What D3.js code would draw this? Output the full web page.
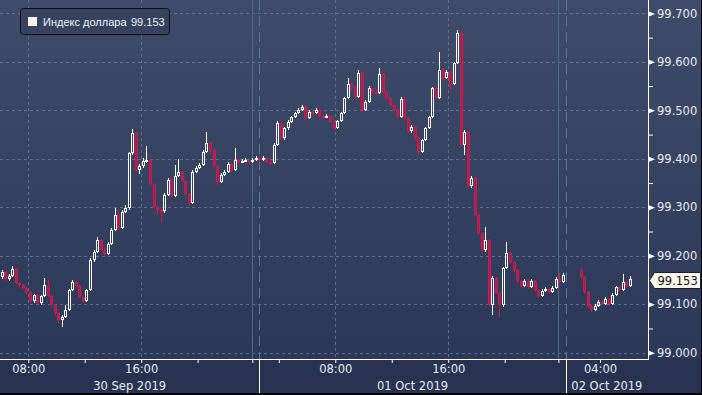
<!DOCTYPE html>
<html>
<head>
<meta charset="utf-8">
<script src="https://cdn.jsdelivr.net/npm/d3@7"></script>
<style>
body{margin:0;background:#000;}
svg{display:block;}
text{font-family:"DejaVu Sans",sans-serif;}
</style>
</head>
<body>
<script>
(function(){

//15 minute bars, slot = position on the compressed time axis
var blockStart = [0, 164];   //first slot of each block of bars (30 Sep-01 Oct, then 02 Oct)
var blockLength = [160, 15];

var openA = [
  99.156, 99.166, 99.152, 99.158, 99.173, 99.144, 99.140, 99.133, 99.125, 99.107,
  99.119, 99.102, 99.117, 99.140, 99.117, 99.098, 99.082, 99.067, 99.074, 99.088,
  99.129, 99.146, 99.138, 99.115, 99.107, 99.129, 99.191, 99.208, 99.233, 99.212,
  99.204, 99.224, 99.253, 99.284, 99.257, 99.290, 99.298, 99.412, 99.453, 99.377,
  99.385, 99.395, 99.397, 99.348, 99.301, 99.294, 99.292, 99.325, 99.356, 99.323,
  99.364, 99.373, 99.354, 99.327, 99.309, 99.373, 99.381, 99.387, 99.414, 99.433,
  99.418, 99.385, 99.352, 99.367, 99.373, 99.389, 99.377, 99.397, 99.393, 99.395,
  99.397, 99.393, 99.397, 99.402, 99.397, 99.402, 99.393, 99.391, 99.428, 99.474,
  99.443, 99.464, 99.476, 99.486, 99.494, 99.501, 99.507, 99.484, 99.497, 99.494,
  99.501, 99.488, 99.486, 99.488, 99.476, 99.464, 99.478, 99.494, 99.525, 99.554,
  99.546, 99.527, 99.577, 99.501, 99.517, 99.546, 99.538, 99.536, 99.575, 99.538,
  99.525, 99.511, 99.501, 99.486, 99.523, 99.484, 99.457, 99.466, 99.443, 99.414,
  99.439, 99.464, 99.486, 99.546, 99.525, 99.583, 99.567, 99.579, 99.554, 99.598,
  99.660, 99.428, 99.455, 99.344, 99.360, 99.284, 99.247, 99.212, 99.233, 99.098,
  99.154, 99.123, 99.098, 99.175, 99.206, 99.187, 99.171, 99.148, 99.138, 99.148,
  99.136, 99.148, 99.129, 99.117, 99.127, 99.131, 99.125, 99.133, 99.152, 99.146,
  99.171, 99.156, 99.125, 99.096, 99.088, 99.096, 99.104, 99.100, 99.111, 99.100,
  99.119, 99.136, 99.129, 99.146, 99.138
];
var highA = [
  99.171, 99.169, 99.162, 99.179, 99.175, 99.146, 99.142, 99.136, 99.127, 99.121,
  99.121, 99.119, 99.154, 99.150, 99.119, 99.100, 99.084, 99.078, 99.098, 99.131,
  99.150, 99.148, 99.140, 99.117, 99.131, 99.195, 99.212, 99.239, 99.235, 99.216,
  99.228, 99.257, 99.298, 99.294, 99.294, 99.305, 99.414, 99.461, 99.455, 99.389,
  99.402, 99.426, 99.400, 99.350, 99.303, 99.301, 99.329, 99.360, 99.360, 99.387,
  99.400, 99.375, 99.356, 99.329, 99.377, 99.385, 99.391, 99.418, 99.455, 99.435,
  99.422, 99.387, 99.371, 99.377, 99.393, 99.391, 99.422, 99.402, 99.400, 99.402,
  99.400, 99.402, 99.406, 99.404, 99.406, 99.404, 99.397, 99.433, 99.478, 99.476,
  99.466, 99.480, 99.488, 99.497, 99.505, 99.511, 99.511, 99.501, 99.501, 99.505,
  99.503, 99.492, 99.492, 99.490, 99.478, 99.480, 99.497, 99.527, 99.567, 99.556,
  99.550, 99.583, 99.579, 99.521, 99.550, 99.548, 99.542, 99.587, 99.577, 99.540,
  99.527, 99.513, 99.503, 99.527, 99.525, 99.486, 99.470, 99.468, 99.445, 99.441,
  99.466, 99.488, 99.548, 99.550, 99.620, 99.587, 99.583, 99.581, 99.600, 99.666,
  99.664, 99.459, 99.457, 99.364, 99.362, 99.286, 99.249, 99.259, 99.235, 99.158,
  99.156, 99.125, 99.177, 99.228, 99.208, 99.189, 99.173, 99.150, 99.152, 99.150,
  99.152, 99.150, 99.131, 99.131, 99.136, 99.133, 99.138, 99.156, 99.164, 99.164,
  99.175, 99.158, 99.127, 99.098, 99.100, 99.109, 99.109, 99.115, 99.113, 99.123,
  99.138, 99.138, 99.162, 99.148, 99.158
];
var lowA = [
  99.152, 99.148, 99.148, 99.156, 99.142, 99.136, 99.131, 99.121, 99.102, 99.102,
  99.098, 99.098, 99.115, 99.115, 99.096, 99.078, 99.061, 99.053, 99.071, 99.086,
  99.127, 99.136, 99.113, 99.102, 99.104, 99.127, 99.187, 99.206, 99.210, 99.200,
  99.202, 99.222, 99.251, 99.253, 99.255, 99.288, 99.294, 99.408, 99.373, 99.369,
  99.381, 99.391, 99.346, 99.298, 99.284, 99.268, 99.288, 99.323, 99.321, 99.321,
  99.362, 99.352, 99.325, 99.303, 99.307, 99.371, 99.379, 99.385, 99.412, 99.414,
  99.383, 99.346, 99.350, 99.364, 99.371, 99.373, 99.375, 99.389, 99.391, 99.393,
  99.389, 99.391, 99.395, 99.393, 99.395, 99.391, 99.387, 99.389, 99.426, 99.439,
  99.439, 99.459, 99.474, 99.484, 99.492, 99.499, 99.480, 99.482, 99.490, 99.492,
  99.486, 99.484, 99.484, 99.474, 99.459, 99.461, 99.476, 99.492, 99.523, 99.542,
  99.523, 99.525, 99.497, 99.499, 99.515, 99.534, 99.532, 99.534, 99.536, 99.521,
  99.507, 99.497, 99.484, 99.484, 99.480, 99.453, 99.453, 99.439, 99.408, 99.412,
  99.437, 99.461, 99.484, 99.521, 99.523, 99.563, 99.565, 99.538, 99.552, 99.596,
  99.426, 99.408, 99.342, 99.340, 99.282, 99.243, 99.208, 99.208, 99.096, 99.078,
  99.121, 99.074, 99.094, 99.173, 99.183, 99.166, 99.144, 99.133, 99.136, 99.131,
  99.133, 99.125, 99.113, 99.115, 99.125, 99.121, 99.123, 99.131, 99.144, 99.144,
  99.154, 99.123, 99.092, 99.084, 99.086, 99.094, 99.098, 99.098, 99.098, 99.098,
  99.117, 99.127, 99.127, 99.136, 99.136
];
var closeA = [
  99.166, 99.152, 99.158, 99.173, 99.144, 99.140, 99.133, 99.125, 99.107, 99.119,
  99.102, 99.117, 99.140, 99.117, 99.098, 99.082, 99.067, 99.074, 99.088, 99.129,
  99.146, 99.138, 99.115, 99.107, 99.129, 99.191, 99.208, 99.233, 99.212, 99.204,
  99.224, 99.253, 99.284, 99.257, 99.290, 99.298, 99.412, 99.453, 99.377, 99.385,
  99.395, 99.397, 99.348, 99.301, 99.294, 99.292, 99.325, 99.356, 99.323, 99.364,
  99.373, 99.354, 99.327, 99.309, 99.373, 99.381, 99.387, 99.414, 99.433, 99.418,
  99.385, 99.352, 99.367, 99.373, 99.389, 99.377, 99.397, 99.393, 99.395, 99.397,
  99.393, 99.397, 99.402, 99.397, 99.402, 99.393, 99.391, 99.428, 99.474, 99.443,
  99.464, 99.476, 99.486, 99.494, 99.501, 99.507, 99.484, 99.497, 99.494, 99.501,
  99.488, 99.486, 99.488, 99.476, 99.464, 99.478, 99.494, 99.525, 99.554, 99.546,
  99.527, 99.577, 99.501, 99.517, 99.546, 99.538, 99.536, 99.575, 99.538, 99.525,
  99.511, 99.501, 99.486, 99.523, 99.484, 99.457, 99.466, 99.443, 99.414, 99.439,
  99.464, 99.486, 99.546, 99.525, 99.583, 99.567, 99.579, 99.554, 99.598, 99.660,
  99.428, 99.455, 99.344, 99.360, 99.284, 99.247, 99.212, 99.233, 99.098, 99.154,
  99.123, 99.098, 99.175, 99.206, 99.187, 99.171, 99.148, 99.138, 99.148, 99.136,
  99.148, 99.129, 99.117, 99.127, 99.131, 99.125, 99.133, 99.152, 99.146, 99.160,
  99.156, 99.125, 99.096, 99.088, 99.096, 99.104, 99.100, 99.111, 99.100, 99.119,
  99.136, 99.129, 99.146, 99.138, 99.153
];

//time axis: tick slots and their labels
var tickSlots = [8, 24, 40, 56, 71.5, 79, 95, 111, 127, 143, 158.2, 170];
var tickLabels = ["08:00", "", "16:00", "", "", "", "08:00", "", "16:00", "", "", "04:00"];
var gridSlots = [8, 40, 95, 127];          //dotted vertical grid
var midnightSlots = [71.5, 158.2];         //solid day lines
var sessionSlots = [73.5, 160.3];          //long dashed session lines
var dateBounds = [0, 73.5, 160.3, 183.6];
var dateLabels = ["30 Sep 2019", "01 Oct 2019", "02 Oct 2019"];

//price axis
var yTicks = [99.0, 99.1, 99.2, 99.3, 99.4, 99.5, 99.6, 99.7];
var yMinor = [99.05, 99.15, 99.25, 99.35, 99.45, 99.55, 99.65];

var seriesName = "Индекс доллара";
var lastValue = 99.153;

//frame
var width = 702, height = 395,
    plotRight = 648, axisY = 359;

var svg = d3.select("body").append("svg")
    .attr("width", width)
    .attr("height", height);

var defs = svg.append("defs");
var grad = defs.append("linearGradient")
    .attr("id", "bg").attr("x1", 0).attr("y1", 0).attr("x2", 0).attr("y2", 1);
grad.append("stop").attr("offset", "0%").attr("stop-color", "#3e4c6a");
grad.append("stop").attr("offset", "100%").attr("stop-color", "#2c3857");

//backgrounds
svg.append("rect").attr("width", width).attr("height", axisY).attr("fill", "url(#bg)");
svg.append("rect").attr("y", axisY).attr("width", width).attr("height", height - axisY).attr("fill", "#273351");
svg.append("rect").attr("y", height - 2).attr("width", width).attr("height", 2).attr("fill", "#05070b");
svg.append("rect").attr("x", width - 1).attr("width", 1).attr("height", height).attr("fill", "#05070b");

//scales
var x = d3.scaleLinear().domain([0, 183.6]).range([0, plotRight]);
var y = d3.scaleLinear().domain([99.0, 99.7]).range([352.7, 13.4]);

function px(v){ return Math.round(v) + 0.5; }

//horizontal grid
svg.append("g").selectAll("line")
    .data(yTicks).enter().append("line")
    .attr("x1", 0).attr("x2", plotRight)
    .attr("y1", function(d){ return px(y(d)); })
    .attr("y2", function(d){ return px(y(d)); })
    .attr("stroke", "#5a7292")
    .attr("stroke-dasharray", "3,3");

//vertical grid
svg.append("g").selectAll("line")
    .data(gridSlots).enter().append("line")
    .attr("x1", function(d){ return px(x(d)); })
    .attr("x2", function(d){ return px(x(d)); })
    .attr("y1", 0).attr("y2", axisY)
    .attr("stroke", "#5a7292")
    .attr("stroke-dasharray", "3,3");

//day lines
svg.append("g").selectAll("line")
    .data(midnightSlots).enter().append("line")
    .attr("x1", function(d){ return px(x(d)); })
    .attr("x2", function(d){ return px(x(d)); })
    .attr("y1", 0).attr("y2", axisY)
    .attr("stroke", "#4f6989");

svg.append("g").selectAll("line")
    .data(sessionSlots).enter().append("line")
    .attr("x1", function(d){ return px(x(d)); })
    .attr("x2", function(d){ return px(x(d)); })
    .attr("y1", 0).attr("y2", axisY)
    .attr("stroke", "#5a7698")
    .attr("stroke-dasharray", "10,6");

//join bars with their slots
var bars = [];
var k = 0;
blockStart.forEach(function(s, b){
    for (var j = 0; j < blockLength[b]; j++, k++){
        bars.push({slot: s + j, o: openA[k], h: highA[k], l: lowA[k], c: closeA[k]});
    }
});
bars.forEach(function(d){
    d.cx = Math.round(x(d.slot + 0.5));
    d.up = d.c >= d.o;
    d.yt = Math.round(y(Math.max(d.o, d.c)));
    d.yb = Math.round(y(Math.min(d.o, d.c)));
    if (d.yb - d.yt < 2) d.yb = d.yt + 2;
    d.yh = Math.round(y(d.h));
    d.yl = Math.round(y(d.l));
    d.col = d.up ? "#ffffff" : "#d3164b";
});

var candles = svg.append("g").attr("class", "candles");

//upper and lower wicks
candles.selectAll(".wickHi")
    .data(bars).enter().append("line")
    .attr("class", "wickHi")
    .attr("x1", function(d){ return d.cx + 0.5; })
    .attr("x2", function(d){ return d.cx + 0.5; })
    .attr("y1", function(d){ return d.yh; })
    .attr("y2", function(d){ return d.yt; })
    .attr("stroke", function(d){ return d.col; });
candles.selectAll(".wickLo")
    .data(bars).enter().append("line")
    .attr("class", "wickLo")
    .attr("x1", function(d){ return d.cx + 0.5; })
    .attr("x2", function(d){ return d.cx + 0.5; })
    .attr("y1", function(d){ return d.yb; })
    .attr("y2", function(d){ return d.yl; })
    .attr("stroke", function(d){ return d.col; });

//bodies: hollow white up bars, filled crimson down bars
candles.selectAll(".body")
    .data(bars).enter().append("rect")
    .attr("class", "body")
    .attr("x", function(d){ return d.cx - 0.5; })
    .attr("y", function(d){ return d.yt + 0.5; })
    .attr("width", 2)
    .attr("height", function(d){ return Math.max(d.yb - d.yt - 1, 1); })
    .attr("fill", function(d){ return d.up ? "none" : "#96264f"; })
    .attr("stroke", function(d){ return d.col; });

//axis lines
svg.append("line").attr("x1", plotRight + 0.5).attr("x2", plotRight + 0.5)
    .attr("y1", 0).attr("y2", axisY + 0.5).attr("stroke", "#ffffff");
svg.append("line").attr("x1", 0).attr("x2", plotRight + 1)
    .attr("y1", axisY + 0.5).attr("y2", axisY + 0.5).attr("stroke", "#ffffff");

//right price axis
var yAxis = d3.axisRight(y)
    .tickValues(yTicks)
    .tickFormat(d3.format(".3f"))
    .tickSize(0)
    .tickPadding(9);
var yAxisG = svg.append("g")
    .attr("transform", "translate(" + plotRight + ",0)")
    .call(yAxis);
yAxisG.select(".domain").remove();
yAxisG.selectAll("text")
    .attr("fill", "#e8ebf2")
    .style("font-size", "11.5px")
    .style("font-family", "DejaVu Sans");
yAxisG.selectAll(".tick").append("path")
    .attr("d", "M1,-2.5L7,0L1,2.5Z")
    .attr("fill", "#ffffff");

var yMinorAxis = d3.axisRight(y)
    .tickValues(yMinor)
    .tickFormat("")
    .tickSize(4);
var yMinorG = svg.append("g")
    .attr("transform", "translate(" + (plotRight + 1) + ",0)")
    .call(yMinorAxis);
yMinorG.select(".domain").remove();
yMinorG.selectAll("line").attr("stroke", "#ffffff");

//bottom time axis
var xAxis = d3.axisBottom(x)
    .tickValues(tickSlots)
    .tickFormat(function(d, i){ return tickLabels[i]; })
    .tickSize(4)
    .tickPadding(2);
var xAxisG = svg.append("g")
    .attr("transform", "translate(0," + axisY + ")")
    .call(xAxis);
xAxisG.select(".domain").remove();
xAxisG.selectAll("line").attr("stroke", "#ffffff");
xAxisG.selectAll("text")
    .attr("fill", "#e8ebf2")
    .style("font-size", "11.5px")
    .style("font-family", "DejaVu Sans");

//date separators and labels
svg.append("g").selectAll("line")
    .data(sessionSlots).enter().append("line")
    .attr("x1", function(d){ return px(x(d)); })
    .attr("x2", function(d){ return px(x(d)); })
    .attr("y1", axisY).attr("y2", height - 2)
    .attr("stroke", "#ffffff");
svg.append("g").selectAll("text")
    .data(dateLabels).enter().append("text")
    .attr("x", function(d, i){ return (x(dateBounds[i]) + x(dateBounds[i + 1])) / 2; })
    .attr("y", 390)
    .attr("text-anchor", "middle")
    .attr("fill", "#e8ebf2")
    .style("font-size", "11.5px")
    .text(function(d){ return d; });

//last value callout
var ly = Math.round(y(lastValue)) + 1.5;
svg.append("path")
    .attr("d", "M649.5," + ly + "L654.5," + (ly - 8) + "L700.5," + (ly - 8) +
               "L700.5," + (ly + 8) + "L654.5," + (ly + 8) + "Z")
    .attr("fill", "#fdf8ef")
    .attr("stroke", "#1b1e26");
svg.append("text")
    .attr("x", 657.5).attr("y", ly + 4.5)
    .attr("fill", "#111111")
    .style("font-size", "11.5px")
    .text(d3.format(".3f")(lastValue));

//legend
var legend = svg.append("g");
legend.append("rect")
    .attr("x", 20.5).attr("y", 8.5)
    .attr("width", 149).attr("height", 26)
    .attr("rx", 3)
    .attr("fill", "#36435f")
    .attr("stroke", "#0b0f18");
legend.append("rect")
    .attr("x", 28).attr("y", 17)
    .attr("width", 9).attr("height", 9)
    .attr("fill", "#fdf1ec");
legend.append("text")
    .attr("x", 43).attr("y", 26)
    .attr("fill", "#f0f1f5")
    .style("font-family", "Liberation Sans")
    .style("font-size", "11px")
    .text(seriesName);
legend.append("text")
    .attr("x", 131).attr("y", 26)
    .attr("fill", "#f0f1f5")
    .style("font-family", "Liberation Sans")
    .style("font-size", "11px")
    .text(d3.format(".3f")(lastValue));

})();
</script>
</body>
</html>
